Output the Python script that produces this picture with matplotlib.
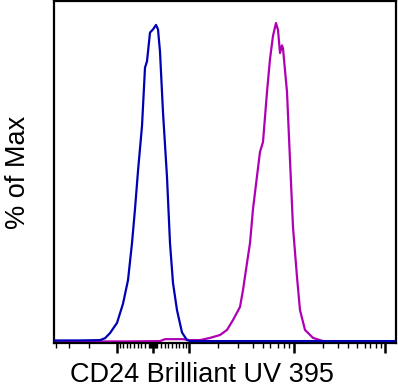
"""
CD24 Brilliant UV 395 — flow histogram overlay (% of Max)
"""

import matplotlib
matplotlib.use("Agg")
import matplotlib.pyplot as plt

# ── Data (x in display channels, y in % of max) ──────────────────────────────

BLUE_X = [54, 80, 100, 105, 110, 117, 123, 128, 132, 135, 138, 142, 145, 147,
          150, 153, 156, 158, 160, 163, 167, 170, 173, 177, 182, 187, 190, 396]
BLUE_Y = [0.5, 0.5, 0.6, 1.2, 2.8, 6.0, 12.0, 19.4, 31.0, 41.7, 53.6, 67.7, 86.0, 88.0,
          97.0, 98.0, 99.4, 98.0, 91.0, 72.0, 51.7, 31.0, 18.5, 10.0, 3.0, 0.6, 0.3, 0.3]

MAGENTA_X = [54, 125, 160, 165, 183, 190, 200, 210, 220, 227, 233, 240, 243, 247,
             250, 253, 257, 260, 263, 267, 270, 273, 276, 278, 280, 282, 283, 287,
             290, 293, 297, 300, 305, 313, 323, 396]
MAGENTA_Y = [0.2, 0.2, 0.3, 0.9, 0.9, 0.6, 0.6, 1.3, 2.2, 3.8, 6.9, 11.0, 16.3, 24.8,
             31.0, 41.7, 52.0, 59.6, 62.7, 78.4, 88.7, 96.0, 100.0, 97.8, 90.6, 93.0, 92.0, 78.4,
             57.0, 36.0, 20.4, 10.0, 3.8, 1.3, 0.3, 0.2]

# biexponential axis ticks (no labels)
MAJOR_TICKS = [117, 153, 189, 294, 385]
MINOR_TICKS = [56, 69, 89,
               120, 123, 127, 130, 134, 138, 141, 145, 149,
               150, 151, 152, 154, 155, 156,
               157, 161, 165, 168, 172, 176, 179, 183, 186,
               218, 238, 253, 263, 270, 278, 284, 289,
               323, 338, 348, 357, 365, 370, 376, 381]

X_LABEL = "CD24 Brilliant UV 395"
Y_LABEL = "% of Max"

BLUE = "#0000B4"
MAGENTA = "#B000B4"

# ── Plot ─────────────────────────────────────────────────────────────────────

plt.rcParams["font.family"] = ["Liberation Sans", "DejaVu Sans"]

fig = plt.figure(figsize=(3.98, 3.88), dpi=100)
ax = fig.add_axes([54 / 398, 1 - 343 / 388, 342 / 398, 342 / 388])

ax.plot(MAGENTA_X, MAGENTA_Y, color=MAGENTA, linewidth=1.6, zorder=2)
ax.plot(BLUE_X, BLUE_Y, color=BLUE, linewidth=1.6, zorder=3)

ax.set_xlim(54, 396)
ax.set_ylim(-0.3, 106.9)

ax.set_xticks(MAJOR_TICKS)
ax.set_xticks(MINOR_TICKS, minor=True)
ax.set_xticklabels([])
ax.set_yticks([])
ax.tick_params(axis="x", which="major", length=7.5, width=1.8, color="black")
ax.tick_params(axis="x", which="minor", length=3.5, width=1.0, color="black")

for sp in ax.spines.values():
    sp.set_linewidth(1.6)
    sp.set_color("black")

fig.text(202 / 398, 1 - 375 / 388, X_LABEL, ha="center", va="center", fontsize=19.5)
fig.text(18 / 398, 1 - 172 / 388, Y_LABEL, ha="center", va="center",
         rotation=90, fontsize=19.5)

fig.savefig("out.png", dpi=100)
